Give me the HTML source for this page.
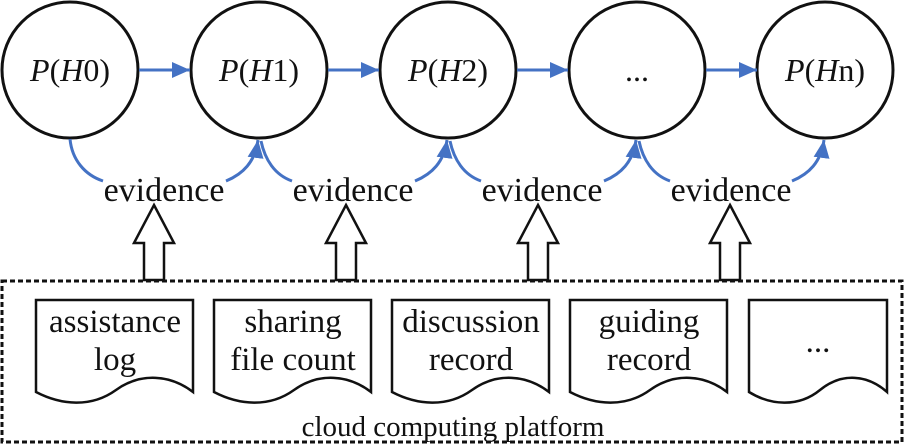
<!DOCTYPE html>
<html><head><meta charset="utf-8"><style>
html,body{margin:0;padding:0;background:#fff;}
svg{display:block;}
text{font-family:"Liberation Serif","Tinos","Times New Roman","Nimbus Roman",serif;fill:#111;}
</style></head><body>
<svg width="904" height="445" viewBox="0 0 904 445" xmlns="http://www.w3.org/2000/svg">
<defs>
<marker id="ah" markerWidth="20" markerHeight="18" refX="18" refY="8" orient="auto" markerUnits="userSpaceOnUse" viewBox="0 0 20 16">
<path d="M0,0 L18,8 L0,16 Z" fill="#4472c4"/></marker>
<path id="doc" d="M0,0 H157 V92 C135,75 105,72 80,90 C55,108 25,105 0,92 Z" fill="#fff" stroke="#111" stroke-width="2.5"/>
<path id="harr" d="M0,0 L20,38 L10,38 L10,75 L-10,75 L-10,38 L-20,38 Z" fill="#fff" stroke="#111" stroke-width="2.5"/>
</defs>
<g fill="none" stroke="#111" stroke-width="3">
<circle cx="70" cy="70" r="68"/><circle cx="259" cy="70" r="68"/><circle cx="448" cy="70" r="68"/><circle cx="637" cy="70" r="68"/><circle cx="825" cy="70" r="68"/>
</g>
<g stroke="#4472c4" stroke-width="3" fill="none">
<line x1="139" y1="70" x2="190" y2="70" marker-end="url(#ah)"/>
<line x1="328" y1="70" x2="379" y2="70" marker-end="url(#ah)"/>
<line x1="517" y1="70" x2="568" y2="70" marker-end="url(#ah)"/>
<line x1="706" y1="70" x2="757" y2="70" marker-end="url(#ah)"/>
<path d="M70,139 C72,160 85,175 103,181"/>
<path d="M226,181 C243,174 255,162 258,140" marker-end="url(#ah)"/>
<path d="M261,141 C265,160 275,175 292,181"/>
<path d="M415,181 C432,174 444,162 447,140" marker-end="url(#ah)"/>
<path d="M450,141 C454,160 464,175 481,181"/>
<path d="M604,181 C621,174 633,162 636,140" marker-end="url(#ah)"/>
<path d="M639,141 C643,160 653,175 670,181"/>
<path d="M792,181 C809,174 821,162 824,140" marker-end="url(#ah)"/>
</g>
<g font-size="32" text-anchor="middle">
<text x="70" y="81"><tspan font-style="italic">P</tspan>(<tspan font-style="italic">H</tspan>0)</text>
<text x="259" y="81"><tspan font-style="italic">P</tspan>(<tspan font-style="italic">H</tspan>1)</text>
<text x="448" y="81"><tspan font-style="italic">P</tspan>(<tspan font-style="italic">H</tspan>2)</text>
<text x="637" y="81">...</text>
<text x="825" y="81"><tspan font-style="italic">P</tspan>(<tspan font-style="italic">H</tspan>n)</text>
</g>
<g font-size="34" text-anchor="middle">
<text x="164" y="201">evidence</text>
<text x="353" y="201">evidence</text>
<text x="542" y="201">evidence</text>
<text x="731" y="201">evidence</text>
</g>
<rect x="2" y="281" width="900" height="161" fill="none" stroke="#111" stroke-width="3" stroke-dasharray="5,3"/>
<use href="#harr" x="154" y="205"/>
<use href="#harr" x="346" y="205"/>
<use href="#harr" x="538" y="205"/>
<use href="#harr" x="730" y="205"/>
<use href="#doc" x="36" y="300"/>
<use href="#doc" x="214" y="300"/>
<use href="#doc" x="392" y="300"/>
<use href="#doc" x="570" y="300"/>
<path d="M749,300 H887 V392 C868,375 842,372 820,390 C798,408 770,405 749,392 Z" fill="#fff" stroke="#111" stroke-width="2.5"/>
<g font-size="33" text-anchor="middle">
<text x="115" y="332">assistance</text><text x="115" y="370">log</text>
<text x="293" y="332">sharing</text><text x="293" y="370">file count</text>
<text x="471" y="332">discussion</text><text x="471" y="370">record</text>
<text x="649" y="332">guiding</text><text x="649" y="370">record</text>
<text x="818" y="352">...</text>
</g>
<text x="453" y="436" font-size="29" text-anchor="middle">cloud computing platform</text>
</svg>
</body></html>
